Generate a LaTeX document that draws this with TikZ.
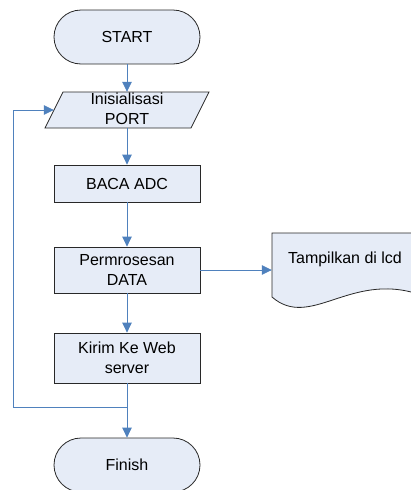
\documentclass[tikz,border=0pt]{standalone}
\usepackage{fontspec}
\setmainfont{Liberation Sans}
\usetikzlibrary{arrows.meta}
\definecolor{shapefill}{RGB}{230,236,247}
\definecolor{shapeline}{RGB}{40,40,40}
\definecolor{flowblue}{RGB}{79,129,189}
\begin{document}
\begin{tikzpicture}[x=1pt,y=-1pt,
  every node/.style={font=\fontsize{16}{20}\selectfont, align=center, inner sep=0pt},
  terminal/.style={draw=shapeline, fill=shapefill, line width=0.8pt,
    minimum width=146pt, minimum height=54pt, rounded corners=27pt},
  process/.style={draw=shapeline, fill=shapefill, line width=0.8pt,
    minimum width=146pt},
  holder/.style={minimum width=146pt},
  outline/.style={draw=shapeline, fill=shapefill, line width=0.8pt},
  flow/.style={draw=flowblue, line width=0.8pt, -{Triangle[length=10pt,width=9.5pt]}},
  plain/.style={draw=flowblue, line width=0.8pt}]
\useasboundingbox (0,0) rectangle (410,490);

% start terminal
\node[terminal] (start) at (127,37) {START};

% input/output parallelogram
\node[holder, minimum height=36pt] (init) at (127,110) {};
\path[outline] (63,92) -- (209,92) -- (191,128) -- (45,128) -- cycle;
\node at (127,109) {Inisialisasi\\PORT};

% processing steps
\node[process, minimum height=37pt] (baca) at (127,183.5) {BACA ADC};
\node[process, minimum height=46pt] (data) at (127,270) {Permrosesan\\DATA};
\node[process, minimum height=50pt] (kirim) at (127,358) {Kirim Ke Web\\server};

% document shape (display output)
\path[outline] (272,297) -- (272,233) -- (418,233) -- (418,294)
  .. controls (350,272) and (310,330) .. (272,297) -- cycle;
\node[holder, minimum height=52pt] (lcd) at (345,259) {Tampilkan di lcd};

% finish terminal
\node[terminal] (finish) at (127,465) {Finish};

% connectors
\draw[flow] (start.south) -- (init.north);
\draw[flow] (init.south) -- (baca.north);
\draw[flow] (baca.south) -- (data.north);
\draw[flow] (data.east) -- (data.east -| lcd.west);
\draw[flow] (data.south) -- (kirim.north);
\draw[flow] (kirim.south) -- (finish.north);

% loop back to port initialisation
\coordinate (join) at (127,407);
\coordinate (loopx) at (13,407);
\draw[plain] (join) -- (loopx);
\draw[flow] (loopx) |- (init.west);
\end{tikzpicture}
\end{document}
